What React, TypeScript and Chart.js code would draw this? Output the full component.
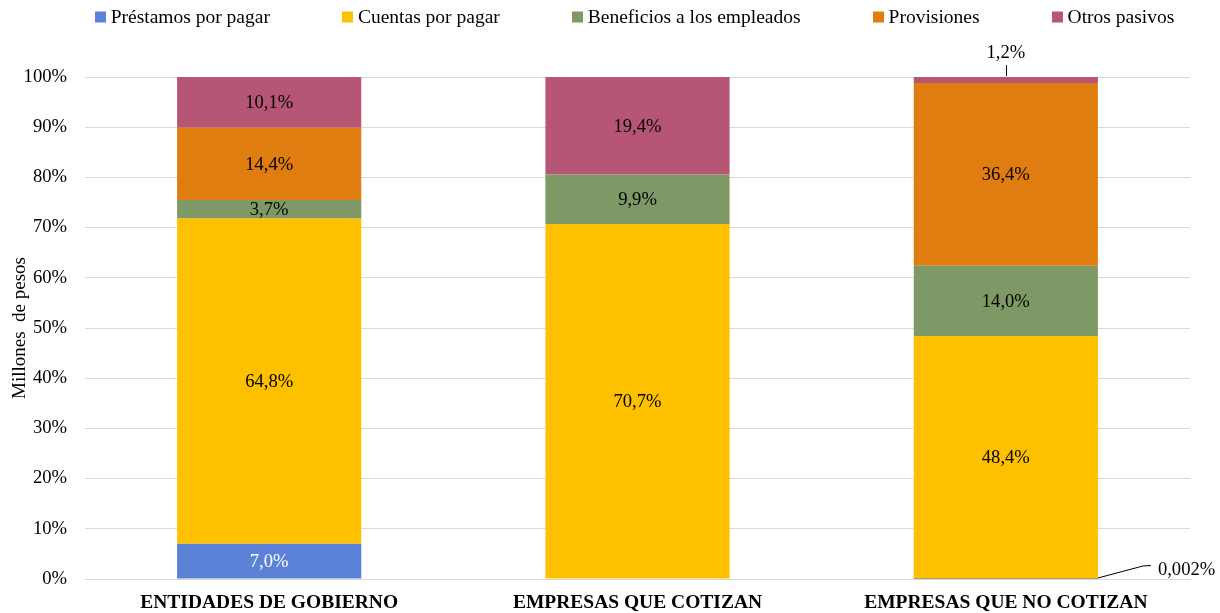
import React, { useEffect, useRef } from "react";
import { Chart, registerables } from "chart.js";

Chart.register(...registerables);

const categories = ["ENTIDADES DE GOBIERNO", "EMPRESAS QUE COTIZAN", "EMPRESAS QUE NO COTIZAN"];
const seriesNames = ["Préstamos por pagar", "Cuentas por pagar", "Beneficios a los empleados", "Provisiones", "Otros pasivos"];
const prestamos = [7.0, 0, 0.002];
const cuentas = [64.8, 70.7, 48.4];
const beneficios = [3.7, 9.9, 14.0];
const provisiones = [14.4, 0, 36.4];
const otros = [10.1, 19.4, 1.2];
const yTicks = [0, 10, 20, 30, 40, 50, 60, 70, 80, 90, 100];
const colors = ["#5B82D7", "#FFC000", "#7F9966", "#E07D10", "#B65574"];
const labelColors = ["#ffffff", "#000000", "#000000", "#000000", "#000000"];

const FONT = "'Liberation Serif', 'Times New Roman', serif";
const LABEL_SIZE = 18.6;
const LEGEND_SIZE = 19.5;

function fmt(v: number): string {
  const s = v < 0.1 ? v.toFixed(3) : v.toFixed(1);
  return s.replace(".", ",") + "%";
}

const labelPlugin = {
  id: "segLabels",
  afterDatasetsDraw(chart: any) {
    const ctx = chart.ctx;
    ctx.save();
    ctx.font = `${LABEL_SIZE}px ${FONT}`;
    ctx.textBaseline = "middle";
    const n = chart.data.datasets.length;
    chart.data.datasets.forEach((ds: any, di: number) => {
      const meta = chart.getDatasetMeta(di);
      meta.data.forEach((bar: any, i: number) => {
        const v = ds.data[i];
        if (!v) return;
        const { x, y, base, width } = bar.getProps(["x", "y", "base", "width"], true);
        const h = Math.abs(base - y);
        if (h >= 14) {
          ctx.fillStyle = labelColors[di];
          ctx.textAlign = "center";
          ctx.fillText(fmt(v), x, (y + base) / 2 + 1);
        } else if (di === n - 1) {
          ctx.strokeStyle = "#000";
          ctx.lineWidth = 1;
          ctx.beginPath();
          ctx.moveTo(Math.round(x) + 0.5, y - 1);
          ctx.lineTo(Math.round(x) + 0.5, y - 12);
          ctx.stroke();
          ctx.fillStyle = "#000";
          ctx.textAlign = "center";
          ctx.fillText(fmt(v), x, y - 24);
        } else {
          const x0 = x + width / 2;
          const y0 = base - 0.5;
          ctx.strokeStyle = "#000";
          ctx.lineWidth = 1;
          ctx.beginPath();
          ctx.moveTo(x0, y0);
          ctx.lineTo(x0 + 45, y0 - 12);
          ctx.lineTo(x0 + 53, y0 - 12.5);
          ctx.stroke();
          ctx.fillStyle = "#000";
          ctx.textAlign = "left";
          ctx.fillText(fmt(v), x0 + 60, y0 - 8);
        }
      });
    });
    ctx.restore();
  },
};

const legendPlugin = {
  id: "customLegend",
  afterDraw(chart: any) {
    const ctx = chart.ctx;
    ctx.save();
    ctx.font = `${LEGEND_SIZE}px ${FONT}`;
    ctx.textBaseline = "middle";
    ctx.textAlign = "left";
    const box = 11;
    const gap = 5;
    const spacing = 72;
    const widths = chart.data.datasets.map((d: any) => box + gap + ctx.measureText(d.label).width);
    const total = widths.reduce((a: number, b: number) => a + b, 0) + spacing * (widths.length - 1);
    const ca = chart.chartArea;
    let x = (ca.left + ca.right - total) / 2 - 3;
    const yc = 17;
    chart.data.datasets.forEach((d: any, i: number) => {
      ctx.fillStyle = d.backgroundColor;
      ctx.fillRect(Math.round(x), yc - box / 2, box, box);
      ctx.fillStyle = "#000";
      ctx.fillText(d.label, x + box + gap, yc + 1);
      x += widths[i] + spacing;
    });
    ctx.restore();
  },
};

export default function App() {
  const ref = useRef<HTMLCanvasElement>(null);
  useEffect(() => {
    if (!ref.current) return;
    const values = [prestamos, cuentas, beneficios, provisiones, otros];
    const chart = new Chart(ref.current, {
      type: "bar",
      data: {
        labels: categories,
        datasets: seriesNames.map((name, i) => ({
          label: name,
          data: values[i],
          backgroundColor: colors[i],
          borderWidth: 0,
          categoryPercentage: 1,
          barPercentage: 0.5,
        })),
      },
      options: {
        animation: false,
        responsive: false,
        maintainAspectRatio: false,
        layout: { padding: { top: 77, right: 30, left: 0, bottom: 0 } },
        plugins: {
          legend: { display: false },
          tooltip: { enabled: false },
        },
        scales: {
          x: {
            stacked: true,
            grid: { display: false, drawTicks: false },
            border: { color: "#d9d9d9" },
            ticks: {
              color: "#000",
              font: { family: FONT, size: LEGEND_SIZE, weight: "bold" },
              padding: 12,
              maxRotation: 0,
              autoSkip: false,
            },
            afterFit(scale: any) {
              scale.height = 34;
            },
          },
          y: {
            stacked: true,
            min: 0,
            max: 100,
            afterBuildTicks(scale: any) {
              scale.ticks = yTicks.map((v) => ({ value: v }));
            },
            grid: { color: "#d9d9d9", drawTicks: false },
            border: { display: false },
            ticks: {
              color: "#000",
              font: { family: FONT, size: LABEL_SIZE },
              padding: 18,
              callback: (v: any) => `${v}%`,
            },
            title: {
              display: true,
              text: "Millones  de pesos",
              color: "#000",
              font: { family: FONT, size: 19 },
              padding: { top: 9, bottom: 0 },
            },
            afterFit(scale: any) {
              scale.width = 85;
            },
          },
        },
      },
      plugins: [labelPlugin, legendPlugin],
    } as any);
    return () => chart.destroy();
  }, []);
  return (
    <div style={{ position: "absolute", left: 0, top: 0, width: 1220, height: 613, background: "#fff" }}>
      <canvas ref={ref} width={1220} height={613} style={{ width: 1220, height: 613, display: "block" }} />
    </div>
  );
}
